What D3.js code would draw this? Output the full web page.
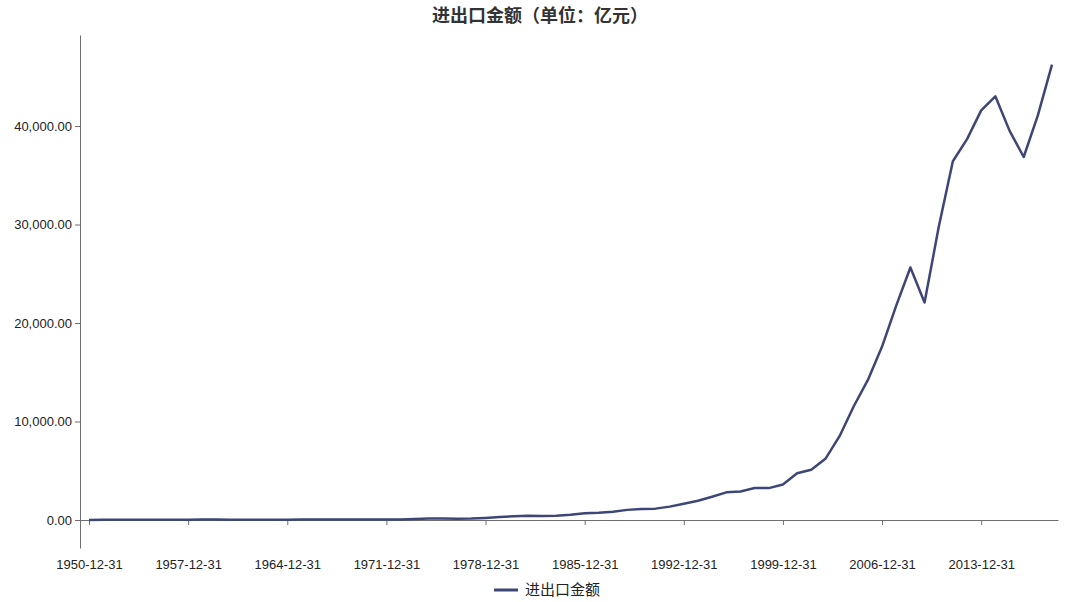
<!DOCTYPE html>
<html>
<head>
<meta charset="utf-8">
<script src="https://cdn.jsdelivr.net/npm/d3@7/dist/d3.min.js"></script>
<style>
  body { margin: 0; background: #fff; }
  svg { font-family: "Liberation Sans", Arial, "Noto Sans CJK SC", sans-serif; }
  .axis path, .axis line { stroke: #6e6e6e; }
  .axis text { fill: #222; font-size: 13px; }
</style>
</head>
<body>
<div id="chart"></div>
<script>
// 1950 - 2018 进出口金额
var years = d3.range(1950, 2019);
var values = [
  11.3, 19.6, 19.4, 23.7, 24.4, 31.4, 32.1, 31.0, 38.7, 43.8,
  38.1, 29.4, 26.6, 29.2, 34.7, 42.5, 46.2, 41.6, 40.5, 40.3,
  45.9, 48.4, 63.0, 109.8, 145.7, 147.5, 134.3, 148.0, 206.4, 293.3,
  381.4, 440.3, 416.1, 436.2, 535.5, 696.0, 738.5, 826.5, 1027.9, 1116.8,
  1154.4, 1357.0, 1655.3, 1957.0, 2366.2, 2808.6, 2898.8, 3251.6, 3239.5, 3606.3,
  4742.9, 5096.5, 6207.7, 8509.9, 11545.5, 14219.1, 17604.4, 21761.8, 25632.6, 22075.4,
  29740.0, 36418.6, 38671.2, 41589.9, 43015.3, 39530.3, 36855.6, 41071.4, 46224.2
];
var tickYears = d3.range(1950, 2019, 7);
var yTicks = [0, 10000, 20000, 30000, 40000];
var title = "进出口金额（单位：亿元）";
var seriesName = "进出口金额";

var width = 1080, height = 602;
var color = "#3d4677";

var svg = d3.select("#chart").append("svg")
  .attr("width", width)
  .attr("height", height);

var data = years.map(function (y, i) {
  return {date: new Date(y, 11, 31), value: values[i]};
});

var x = d3.scaleTime()
  .domain([data[0].date, data[data.length - 1].date])
  .range([89, 1052]);
// pad the time domain so the axis runs a bit past the first/last point
x.domain([x.invert(80), x.invert(1058)]).range([80, 1058]);

var y = d3.scaleLinear()
  .domain([0, 40000])
  .range([520, 126]);
y.domain([y.invert(548), y.invert(35)]).range([548, 35]);

svg.append("text")
  .attr("x", width / 2)
  .attr("y", 22)
  .attr("text-anchor", "middle")
  .style("font-family", "'Noto Sans CJK SC', sans-serif")
  .style("font-weight", "bold")
  .style("font-size", "18px")
  .style("fill", "#333")
  .text(title);

svg.append("g")
  .attr("class", "axis")
  .attr("transform", "translate(80,0)")
  .call(d3.axisLeft(y)
    .tickValues(yTicks)
    .tickSize(5)
    .tickSizeOuter(0)
    .tickFormat(d3.format(",.2f")));

svg.append("g")
  .attr("class", "axis")
  .attr("transform", "translate(0," + y(0) + ")")
  .call(d3.axisBottom(x)
    .tickValues(tickYears.map(function (yr) { return new Date(yr, 11, 31); }))
    .tickSize(5)
    .tickSizeOuter(0)
    .tickFormat(d3.timeFormat("%Y-%m-%d")))
  .selectAll("text")
    .attr("y", 40);

var line = d3.line()
  .x(function (d) { return x(d.date); })
  .y(function (d) { return y(d.value); });

svg.append("path")
  .datum(data)
  .attr("fill", "none")
  .attr("stroke", color)
  .attr("stroke-width", 2.5)
  .attr("stroke-linejoin", "round")
  .attr("d", line);

var legend = svg.append("g")
  .attr("transform", "translate(494,590)");

legend.append("line")
  .attr("x1", 0).attr("x2", 24)
  .attr("stroke", color)
  .attr("stroke-width", 3);

legend.append("text")
  .attr("x", 31)
  .attr("dy", "0.35em")
  .style("font-family", "'Noto Sans CJK SC', sans-serif")
  .style("font-size", "15px")
  .style("fill", "#222")
  .text(seriesName);
</script>
</body>
</html>
